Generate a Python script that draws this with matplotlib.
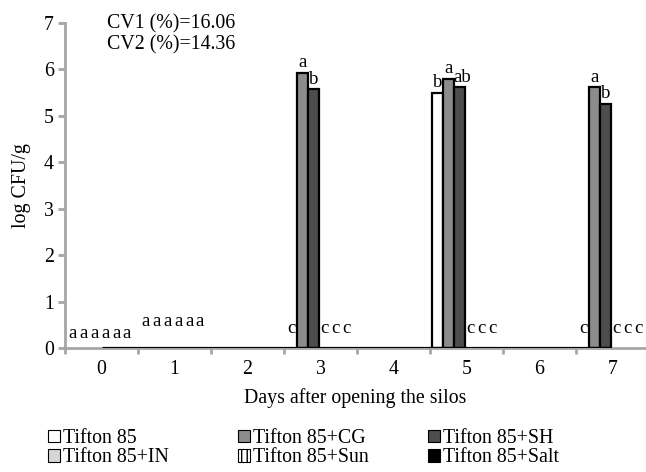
import matplotlib
matplotlib.use("Agg")
import matplotlib.pyplot as plt
from matplotlib.patches import Patch
import numpy as np

plt.rcParams['font.family'] = ['Liberation Serif', 'DejaVu Serif']

days = [0, 1, 2, 3, 4, 5, 6, 7]
series_names = ["Tifton 85", "Tifton 85+CG", "Tifton 85+SH",
                "Tifton 85+IN", "Tifton 85+Sun", "Tifton 85+Salt"]
t85 = [0, 0, 0, 0, 0, 5.50, 0, 0]
t85_cg = [0, 0, 0, 5.93, 0, 5.80, 0, 5.62]
t85_sh = [0, 0, 0, 5.58, 0, 5.62, 0, 5.26]
t85_in = [0, 0, 0, 0, 0, 0, 0, 0]
t85_sun = [0, 0, 0, 0, 0, 0, 0, 0]
t85_salt = [0, 0, 0, 0, 0, 0, 0, 0]

lab_t85 = ['a', 'a', '', 'c', '', 'b', '', 'c']
lab_cg = ['a', 'a', '', 'a', '', 'a', '', 'a']
lab_sh = ['a', 'a', '', 'b', '', 'ab', '', 'b']
lab_in = ['a', 'a', '', 'c', '', 'c', '', 'c']
lab_sun = ['a', 'a', '', 'c', '', 'c', '', 'c']
lab_salt = ['a', 'a', '', 'c', '', 'c', '', 'c']

cv_texts = ["CV1 (%)=16.06", "CV2 (%)=14.36"]

values = [t85, t85_cg, t85_sh, t85_in, t85_sun, t85_salt]
labels = [lab_t85, lab_cg, lab_sh, lab_in, lab_sun, lab_salt]
faces = ['white', '#8c8c8c', '#4d4d4d', '#d6d6d6', 'white', 'black']
hatches = [None, None, None, None, '|||', None]

fig = plt.figure(figsize=(6.46, 4.72), dpi=100)
W, H = 646, 472
ax = fig.add_axes([65 / W, 1 - 348 / H, 584 / W, 325 / H])

x = np.arange(len(days))
bw = 0.15
fs = 14.3
lfs = 13.5
# label height for zero-valued bars (label placement per day)
zero_lab_y = [0.32, 0.56, 0.43, 0.43, 0.43, 0.43, 0.43, 0.43]

right_edge = 0
for i, (vals, labs) in enumerate(zip(values, labels)):
    off = (i - 2.5) * bw - 0.025
    bars = ax.bar(x + off, vals, width=bw, color=faces[i], edgecolor='black',
                  linewidth=1.6, hatch=hatches[i], zorder=3)
    for j, (b, v, l) in enumerate(zip(bars, vals, labs)):
        cx = b.get_x() + b.get_width() / 2
        if v == 0:
            b.set_visible(False)
            if l:
                ax.text(cx, zero_lab_y[j], l, ha='center', va='center', fontsize=lfs, zorder=4)
        else:
            right_edge = max(right_edge, b.get_x() + b.get_width())
            if len(l) > 1:
                ax.text(b.get_x(), v + 0.03, l, ha='left', va='bottom', fontsize=lfs, zorder=4)
            else:
                ax.text(cx, v + 0.03, l, ha='center', va='bottom', fontsize=lfs, zorder=4)

# baseline drawn by the original chart
ax.plot([x[0], right_edge], [0, 0], color='black', lw=2.3, zorder=5, solid_capstyle='butt')

ax.set_xlim(-0.5, len(days) - 0.5)
ax.set_ylim(0, 7)
ax.set_yticks(range(0, 8))
ax.set_xticks(x)
ax.set_xticklabels([str(d) for d in days], fontsize=fs)
ax.set_xticks(np.arange(-0.5, len(days) + 0.5, 1), minor=True)
ax.tick_params(axis='x', which='major', length=0, pad=9)
ax.tick_params(axis='x', which='minor', length=4, width=2, color='#a6a6a6', direction='out')
ax.tick_params(axis='y', length=5, width=2, color='#a6a6a6', labelsize=fs, pad=3)
for s in ['top', 'right']:
    ax.spines[s].set_visible(False)
for s in ['left', 'bottom']:
    ax.spines[s].set_color('#a6a6a6')
    ax.spines[s].set_linewidth(2)

ax.set_ylabel('log CFU/g', fontsize=fs, labelpad=9)
fig.text(355 / W, 1 - 398 / H, 'Days after opening the silos', ha='center', va='center', fontsize=fs)

fig.text(107 / W, 1 - 24 / H, cv_texts[0], ha='left', va='center', fontsize=fs)
fig.text(107 / W, 1 - 45 / H, cv_texts[1], ha='left', va='center', fontsize=fs)

# legend: three columns, two rows
col_x = [48, 238, 428]
for c in range(3):
    idxs = [c, c + 3]
    handles = [Patch(facecolor=faces[k], edgecolor='black', hatch=hatches[k], linewidth=0.8)
               for k in idxs]
    fig.legend(handles, [series_names[k] for k in idxs], loc='upper left',
               bbox_to_anchor=(col_x[c] / W, 1 - 429 / H), frameon=False,
               fontsize=fs, handlelength=0.6, handleheight=0.6, handletextpad=0.15,
               labelspacing=0.02, borderpad=0, borderaxespad=0)

fig.savefig('out.png', dpi=100)
